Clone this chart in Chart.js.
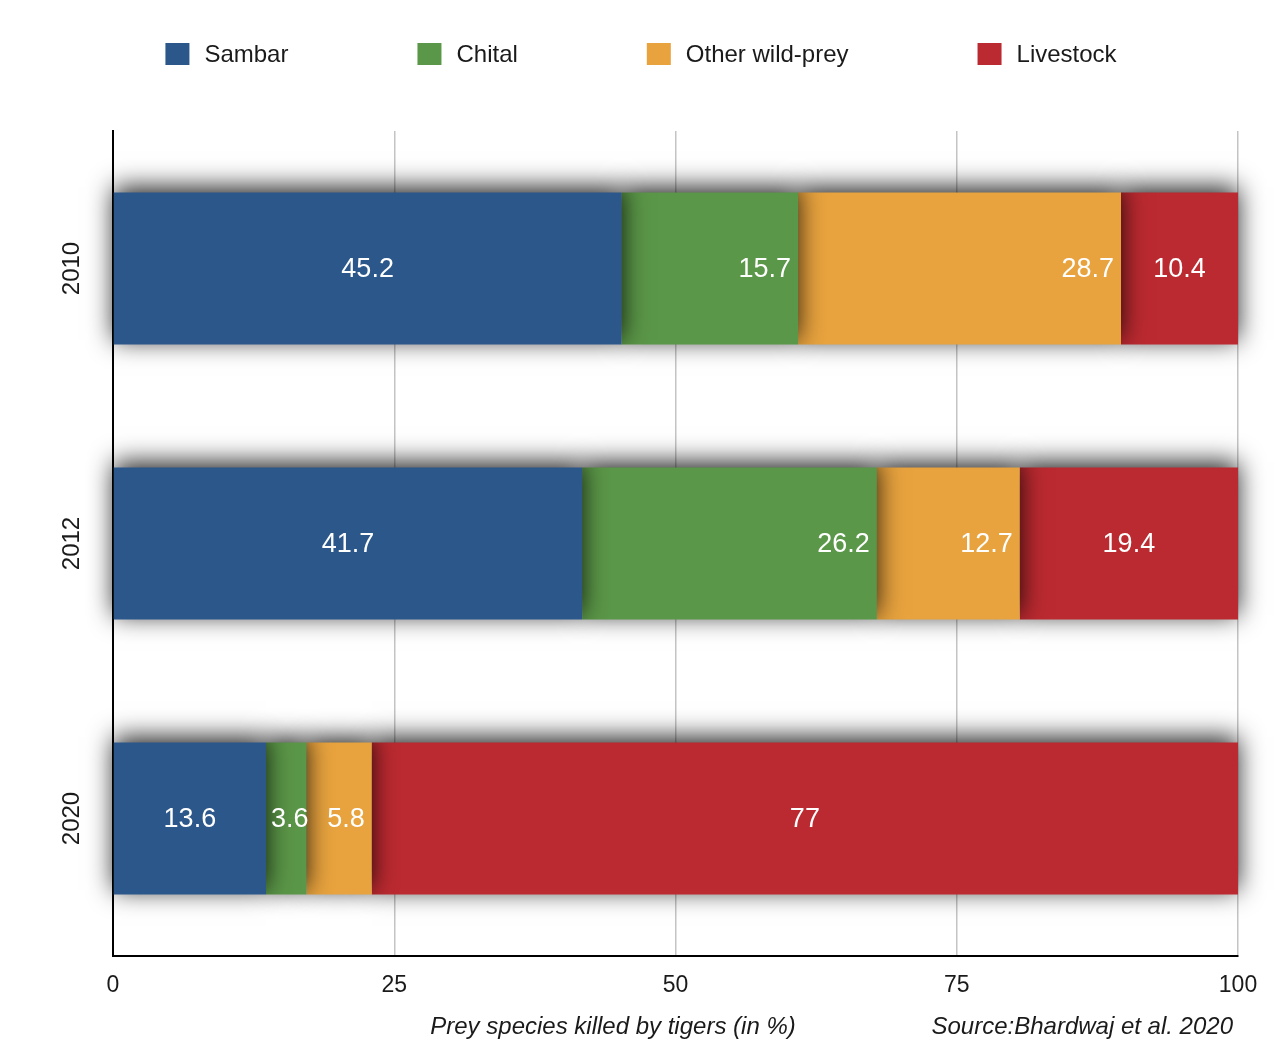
<!DOCTYPE html>
<html>
<head>
<meta charset="utf-8">
<script src="https://cdn.jsdelivr.net/npm/chart.js@4"></script>
<style>
  html, body { margin: 0; padding: 0; background: #fff; }
  #wrap { width: 1282px; height: 1048px; position: relative; }
</style>
</head>
<body>
<div id="wrap"><canvas id="myChart"></canvas></div>
<script>
const years = ["2010", "2012", "2020"];
const sambar = [45.2, 41.7, 13.6];
const chital = [15.7, 26.2, 3.6];
const otherPrey = [28.7, 12.7, 5.8];
const livestock = [10.4, 19.4, 77];
const xTicks = [0, 25, 50, 75, 100];

const FONT = "'Liberation Sans', Arial, Helvetica, sans-serif";

// legend drawn by hand so the wide gaps between items can match
const legendPlugin = {
  id: "topLegend",
  afterDraw(chart) {
    const c = chart.ctx;
    c.save();
    c.font = "24px " + FONT;
    c.textBaseline = "middle";
    const box = 24, gap = 15, pad = 129;
    const items = chart.data.datasets.map((ds) => ({
      label: ds.label,
      color: ds.backgroundColor,
      w: box + gap + c.measureText(ds.label).width,
    }));
    const total = items.reduce((s, it) => s + it.w, 0) + pad * (items.length - 1);
    let x = (chart.width - total) / 2;
    const y = 54;
    items.forEach((it) => {
      c.fillStyle = it.color;
      c.fillRect(x, y - 11, box, 22);
      c.fillStyle = "#1a1a1a";
      c.textAlign = "left";
      c.fillText(it.label, x + box + gap, y + 1);
      x += it.w + pad;
    });
    c.restore();
  },
};

// soft drop shadow under each segment
const shadowPlugin = {
  id: "barShadow",
  beforeDatasetsDraw(chart) {
    const c = chart.ctx;
    c.save();
    c.shadowColor = "rgba(0,0,0,0.85)";
    c.shadowBlur = 24;
    c.shadowOffsetX = 0;
    c.shadowOffsetY = -5;
  },
  afterDatasetsDraw(chart) {
    chart.ctx.restore();
  },
};

// value labels inside the segments, plus the bottom captions
const labelPlugin = {
  id: "valueLabels",
  afterDatasetsDraw(chart) {
    const c = chart.ctx;
    c.save();
    c.font = "27px " + FONT;
    c.fillStyle = "#ffffff";
    c.textBaseline = "middle";
    chart.data.datasets.forEach((ds, i) => {
      const meta = chart.getDatasetMeta(i);
      meta.data.forEach((bar, j) => {
        const txt = String(ds.data[j]);
        const start = Math.min(bar.x, bar.base);
        const end = Math.max(bar.x, bar.base);
        if (i === 1 || i === 2) {
          const w = c.measureText(txt).width;
          let left = end - 7 - w;
          if (left < start + 5) left = start + 5;
          c.textAlign = "left";
          c.fillText(txt, left, bar.y + 1);
        } else {
          c.textAlign = "center";
          c.fillText(txt, (start + end) / 2, bar.y + 1);
        }
      });
    });
    c.restore();
  },
  afterDraw(chart) {
    const c = chart.ctx;
    c.save();
    c.font = "italic 24px " + FONT;
    c.fillStyle = "#1a1a1a";
    c.textBaseline = "middle";
    c.textAlign = "center";
    c.fillText("Prey species killed by tigers (in %)", 613, 1027);
    c.textAlign = "right";
    c.fillText("Source:Bhardwaj et al. 2020", 1233, 1027);
    c.restore();
  },
};

const ctx = document.getElementById("myChart");

const myChart = new Chart(ctx, {
  type: "bar",
  data: {
    labels: years,
    datasets: [
      { label: "Sambar", data: sambar, backgroundColor: "#2c578b" },
      { label: "Chital", data: chital, backgroundColor: "#5b9748" },
      { label: "Other wild-prey", data: otherPrey, backgroundColor: "#e8a33e" },
      { label: "Livestock", data: livestock, backgroundColor: "#bb2a30" },
    ],
  },
  options: {
    indexAxis: "y",
    responsive: true,
    maintainAspectRatio: false,
    animation: false,
    devicePixelRatio: 1,
    layout: { padding: { top: 131, left: 0, right: 44, bottom: 32 } },
    datasets: {
      bar: { barPercentage: 0.553, categoryPercentage: 1, clip: false, borderWidth: 0 },
    },
    plugins: {
      legend: { display: false },
      tooltip: { enabled: false },
    },
    scales: {
      x: {
        stacked: true,
        min: 0,
        max: 100,
        afterBuildTicks(scale) {
          scale.ticks = xTicks.map((v) => ({ value: v }));
        },
        afterFit(scale) {
          scale.height = 60;
        },
        grid: { color: "#c4c4c4", lineWidth: 1.5, drawTicks: false },
        border: { color: "#000", width: 2 },
        ticks: {
          padding: 16,
          color: "#1a1a1a",
          font: { family: FONT, size: 23 },
          maxRotation: 0,
        },
      },
      y: {
        stacked: true,
        afterFit(scale) {
          scale.width = 113;
        },
        grid: { display: false, drawTicks: false },
        border: { color: "#000", width: 2 },
        ticks: {
          padding: 14,
          crossAlign: "center",
          minRotation: 90,
          maxRotation: 90,
          color: "#1a1a1a",
          font: { family: FONT, size: 24 },
        },
      },
    },
  },
  plugins: [shadowPlugin, labelPlugin, legendPlugin],
});
</script>
</body>
</html>
